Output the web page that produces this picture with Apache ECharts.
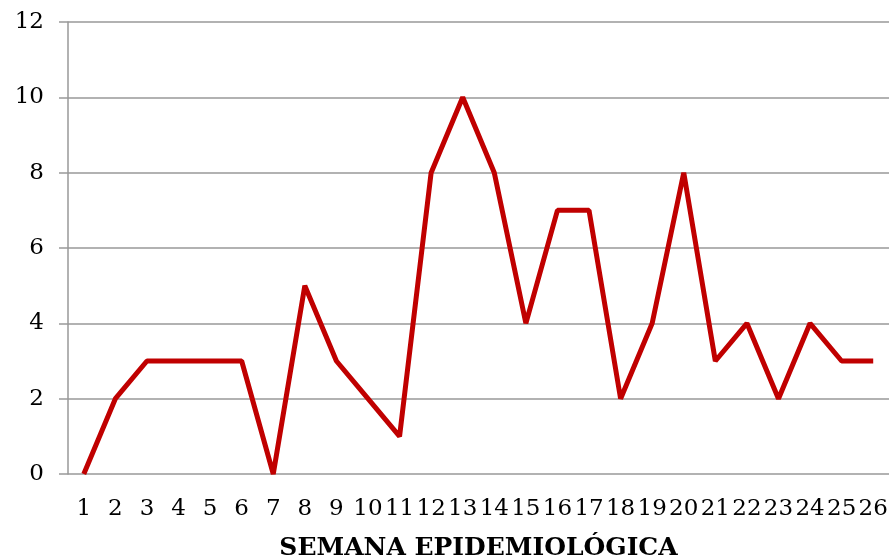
<!DOCTYPE html>
<html><head><meta charset="utf-8">
<script src="https://cdn.jsdelivr.net/npm/echarts@6/dist/echarts.min.js"></script>
<style>html,body{margin:0;padding:0;background:#fff}#c{width:893px;height:560px}</style>
</head><body><div id="c"></div>
<script>
const categories = ['1','2','3','4','5','6','7','8','9','10','11','12','13','14','15','16','17','18','19','20','21','22','23','24','25','26'];
const values = [0,2,3,3,3,3,0,5,3,2,1,8,10,8,4,7,7,2,4,8,3,4,2,4,3,3];
const xTitle = 'SEMANA EPIDEMIOLÓGICA';
const font = "'DejaVu Serif', serif";
const chart = echarts.init(document.getElementById('c'), null, {renderer:'canvas'});
chart.setOption({
  animation:false,
  grid:{left:68,right:4,top:22,bottom:86,containLabel:false,outerBoundsMode:'none'},
  xAxis:{type:'category',data:categories,boundaryGap:true,
    name:xTitle,nameLocation:'middle',nameGap:62,
    nameTextStyle:{fontFamily:font,fontWeight:'bold',fontSize:25,color:'#000'},
    axisLine:{show:false},axisTick:{show:false},
    axisLabel:{interval:0,margin:24,fontFamily:font,fontSize:23,color:'#000'}},
  yAxis:{type:'value',min:0,max:12,interval:2,
    axisLine:{show:true,lineStyle:{color:'#999',width:1.5}},
    axisTick:{show:true,length:9,lineStyle:{color:'#999',width:1.5}},
    axisLabel:{margin:24,fontFamily:font,fontSize:23,color:'#000'},
    splitLine:{show:true,lineStyle:{color:'#999',width:1.5}}},
  series:[{type:'line',data:values,symbol:'none',lineStyle:{color:'#C00000',width:5},
    itemStyle:{color:'#C00000'}}]
});
</script></body></html>
